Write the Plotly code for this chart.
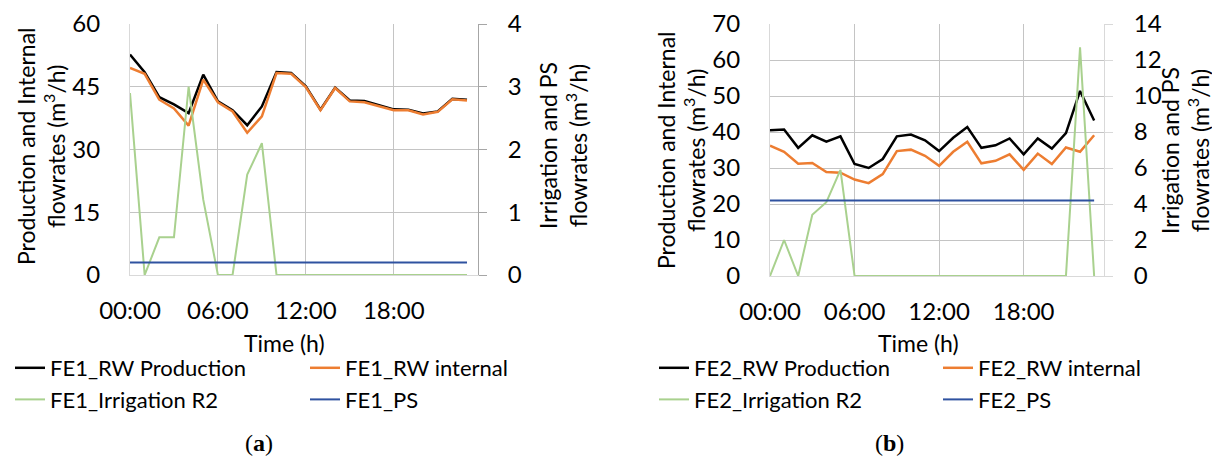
import plotly.graph_objects as go

# ---------------- data ----------------
hours = list(range(24))
tick_hours = [0, 6, 12, 18]
tick_labels = ["00:00", "06:00", "12:00", "18:00"]

fe1_production = [52.7, 48.5, 42.5, 40.8, 38.7, 47.9, 41.5, 39.4, 35.8, 40.3, 48.5, 48.3,
                  45.1, 39.5, 44.8, 41.7, 41.6, 40.6, 39.6, 39.5, 38.6, 39.1, 42.1, 41.9]
fe1_internal = [49.5, 48.1, 41.9, 39.8, 35.7, 46.7, 41.3, 39.1, 34.0, 37.9, 48.3, 48.1,
                44.9, 39.4, 44.7, 41.5, 41.3, 40.3, 39.4, 39.4, 38.4, 39.0, 42.0, 41.7]
fe1_irrigation = [2.9, 0.0, 0.6, 0.6, 3.0, 1.2, 0.0, 0.0, 1.6, 2.1, 0.0, 0.0,
                  0.0, 0.0, 0.0, 0.0, 0.0, 0.0, 0.0, 0.0, 0.0, 0.0, 0.0, 0.0]
fe1_ps = [0.2, 0.2, 0.2, 0.2, 0.2, 0.2, 0.2, 0.2, 0.2, 0.2, 0.2, 0.2,
          0.2, 0.2, 0.2, 0.2, 0.2, 0.2, 0.2, 0.2, 0.2, 0.2, 0.2, 0.2]

fe2_production = [40.5, 40.7, 35.6, 39.1, 37.3, 38.8, 31.1, 30.0, 32.5, 38.8, 39.3, 37.7,
                  34.7, 38.4, 41.4, 35.6, 36.3, 38.2, 33.8, 38.2, 35.4, 39.7, 51.4, 43.2]
fe2_internal = [36.2, 34.5, 31.2, 31.4, 28.9, 28.7, 26.8, 25.8, 28.3, 34.7, 35.1, 33.4,
                30.6, 34.5, 37.3, 31.3, 32.0, 33.8, 29.5, 34.0, 31.1, 35.7, 34.5, 39.1]
fe2_irrigation = [0.0, 2.0, 0.0, 3.4, 4.1, 5.9, 0.0, 0.0, 0.0, 0.0, 0.0, 0.0,
                  0.0, 0.0, 0.0, 0.0, 0.0, 0.0, 0.0, 0.0, 0.0, 0.0, 12.7, 0.0]
fe2_ps = [4.2, 4.2, 4.2, 4.2, 4.2, 4.2, 4.2, 4.2, 4.2, 4.2, 4.2, 4.2,
          4.2, 4.2, 4.2, 4.2, 4.2, 4.2, 4.2, 4.2, 4.2, 4.2, 4.2, 4.2]

# ---------------- styling ----------------
# the page body keeps an 8 px margin, so the figure is 8 px smaller and offset
OFF = 8
W, H = 1220 - OFF, 459 - OFF
FONT = "Lato"
C_BLACK = "#000000"
C_ORANGE = "#ED7D31"
C_GREEN = "#A9D18E"
C_BLUE = "#2F52A0"
GRID = "#c4c4c4"
LIGHT = "#d9d9d9"


def px_x(p):
    return (p - OFF) / W


def px_y(p):
    return 1 - (p - OFF) / H


fig = go.Figure()

panels = [
    dict(tag="FE1", prod=fe1_production, internal=fe1_internal, irr=fe1_irrigation, ps=fe1_ps,
         x="x", y="y", y2="y2", legs=("legend", "legend2")),
    dict(tag="FE2", prod=fe2_production, internal=fe2_internal, irr=fe2_irrigation, ps=fe2_ps,
         x="x2", y="y3", y2="y4", legs=("legend3", "legend4")),
]

for p in panels:
    fig.add_trace(go.Scatter(x=hours, y=p["prod"], mode="lines", name=p["tag"] + "_RW Production",
                             line=dict(color=C_BLACK, width=2.5), xaxis=p["x"], yaxis=p["y"],
                             legend=p["legs"][0]))
    fig.add_trace(go.Scatter(x=hours, y=p["internal"], mode="lines", name=p["tag"] + "_RW internal",
                             line=dict(color=C_ORANGE, width=2.5), xaxis=p["x"], yaxis=p["y"],
                             legend=p["legs"][1]))
    fig.add_trace(go.Scatter(x=hours, y=p["irr"], mode="lines", name=p["tag"] + "_Irrigation R2",
                             line=dict(color=C_GREEN, width=2), xaxis=p["x"], yaxis=p["y2"],
                             legend=p["legs"][0]))
    fig.add_trace(go.Scatter(x=hours, y=p["ps"], mode="lines", name=p["tag"] + "_PS",
                             line=dict(color=C_BLUE, width=2), xaxis=p["x"], yaxis=p["y2"],
                             legend=p["legs"][1]))

tickfont = dict(family=FONT, size=24, color="#000000")

xcommon = dict(tickvals=tick_hours, ticktext=tick_labels, showgrid=True, gridcolor=GRID, gridwidth=1,
               zeroline=False, showline=True, linecolor=LIGHT, ticks="", tickfont=tickfont,
               ticklabelstandoff=14, ticklabeloverflow="allow", automargin=False, fixedrange=True)
ycommon = dict(showgrid=True, gridcolor=GRID, gridwidth=1, zeroline=False, showline=True,
               linecolor=LIGHT, ticks="", tickfont=tickfont, ticklabelstandoff=24,
               ticklabeloverflow="allow", automargin=False)

fig.update_layout(
    width=W, height=H,
    margin=dict(l=0, r=0, t=0, b=0, pad=0, autoexpand=False),
    paper_bgcolor="white", plot_bgcolor="white",
    font=dict(family=FONT, size=22, color="#000000"),
    xaxis=dict(domain=[px_x(130), px_x(478)], anchor="y", range=[0, 23.75], **xcommon),
    yaxis=dict(domain=[px_y(275), px_y(24)], anchor="x", range=[0, 60], dtick=15, **ycommon),
    yaxis2=dict(overlaying="y", anchor="x", side="right", range=[0, 4], dtick=1, showgrid=False,
                zeroline=False, showline=True, linecolor="#a6a6a6", ticks="outside", ticklen=8,
                tickcolor="#a6a6a6", tickfont=tickfont, ticklabelstandoff=16,
                ticklabeloverflow="allow", automargin=False),
    xaxis2=dict(domain=[px_x(770), px_x(1104)], anchor="y3", range=[0, 23.7], **xcommon),
    yaxis3=dict(domain=[px_y(276), px_y(24)], anchor="x2", range=[0, 70], dtick=10, **ycommon),
    yaxis4=dict(overlaying="y3", anchor="x2", side="right", range=[0, 14], dtick=2, showgrid=False,
                zeroline=False, showline=True, linecolor=LIGHT, ticks="outside", ticklen=8,
                tickcolor=LIGHT, tickfont=tickfont, ticklabelstandoff=16,
                ticklabeloverflow="allow", automargin=False),
)

legfont = dict(family=FONT, size=22, color="#000000")
for name, xp in [("legend", 10), ("legend2", 305), ("legend3", 654), ("legend4", 938)]:
    fig.update_layout({name: dict(x=px_x(xp), y=px_y(347), xanchor="left", yanchor="top",
                                  orientation="v", font=legfont, itemwidth=30, tracegroupgap=0,
                                  bgcolor="rgba(0,0,0,0)", borderwidth=0)})

# axis titles and captions
annos = [
    dict(text="Production and Internal<br>flowrates (m<sup>3</sup>/h)", x=px_x(41), y=px_y(146), textangle=-90),
    dict(text="Irrigation and PS<br>flowrates (m<sup>3</sup>/h)", x=px_x(563), y=px_y(146), textangle=-90),
    dict(text="Production and Internal<br>flowrates (m<sup>3</sup>/h)", x=px_x(681), y=px_y(150), textangle=-90),
    dict(text="Irrigation and PS<br>flowrates (m<sup>3</sup>/h)", x=px_x(1185), y=px_y(151), textangle=-90),
    dict(text="Time (h)", x=px_x(284), y=px_y(343)),
    dict(text="Time (h)", x=px_x(918), y=px_y(343)),
]
for a in annos:
    fig.add_annotation(xref="paper", yref="paper", xanchor="center", yanchor="middle",
                       showarrow=False, font=dict(family=FONT, size=23, color="#000000"), **a)

for txt, xp in [("(<b>a</b>)", 259), ("(<b>b</b>)", 889)]:
    fig.add_annotation(xref="paper", yref="paper", x=px_x(xp), y=px_y(443), xanchor="center",
                       yanchor="middle", showarrow=False, text=txt,
                       font=dict(family="Liberation Serif", size=24, color="#000000"))

fig.write_html("out.html")
